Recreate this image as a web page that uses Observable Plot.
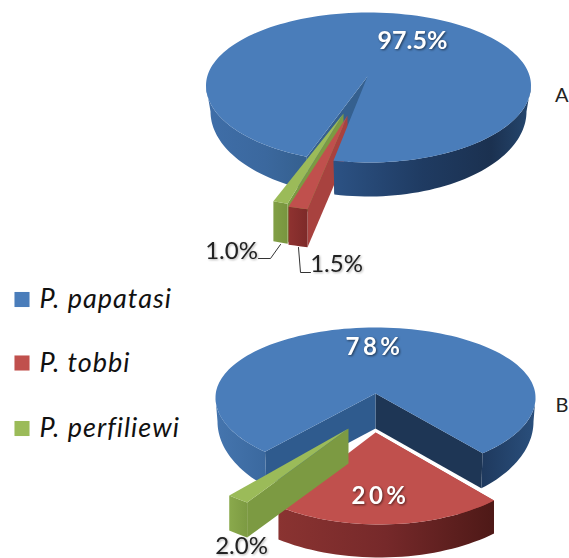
<!DOCTYPE html>
<html><head><meta charset="utf-8">
<script src="https://cdn.jsdelivr.net/npm/d3@7"></script>
<script src="https://cdn.jsdelivr.net/npm/@observablehq/plot@0.6"></script>
<style>html,body{margin:0;background:#fff}svg{display:block;filter:blur(.35px)}</style>
</head><body><div id="chart"></div>
<script>
// ---- data ----
const species = ["P. papatasi", "P. tobbi", "P. perfiliewi"];
const valuesA = [97.5, 1.5, 1.0];
const valuesB = [78, 20, 2.0];
const labelsA = ["97.5%", "1.5%", "1.0%"];
const labelsB = ["78%", "20%", "2.0%"];
const panelNames = ["A", "B"];
const topColors = ["#4a7dba", "#c0504d", "#9bbb59"];

// ---- 3D perspective drawing parameters ----
const WARP = 3.3;
const rad = d => d * Math.PI / 180;
const warp = p => p + WARP * Math.sin(rad(2 * (p - 90)));
const rim = (e, p) => {
  const t = rad(warp(p)), s = Math.sin(t);
  return {x: e.cx + e.rx * Math.cos(t), y: e.cy + (s < 0 ? e.ryB : e.ryF) * s};
};
const arc = (e, a0, a1) => {
  const n = Math.max(2, Math.ceil(Math.abs(a1 - a0) / 2)), out = [];
  for (let i = 0; i <= n; ++i) out.push(rim(e, a0 + (a1 - a0) * i / n));
  return out;
};
const pieA = {
  start: 110.2, values: valuesA,
  main: {cx: 368, cy: 85, rx: 162.5, ryB: 73, ryF: 77},
  base: {cx: 368, cy: 111, rx: 158, ryB: 85, ryF: 85},
  tip: {x: 367, y: 76}, wall: 36,
  slices: [null,
    {e: {cx: 348, cy: 116, rx: 190, ryB: 95, ryF: 95}, tip: {x: 347, y: 115}, depth: 38},
    {e: {cx: 356.5, cy: 113, rx: 220, ryB: 95, ryF: 95}, tip: {x: 343, y: 113}, depth: 40}],
  wallFill: ["#35608f", "#1e3555"]
};
const pieB = {
  start: 130.4, values: valuesB,
  main: {cx: 375, cy: 397, rx: 160, ryB: 70, ryF: 75},
  base: {cx: 375, cy: 421, rx: 158, ryB: 90, ryF: 90},
  tip: {x: 375, y: 393}, wall: 35,
  slices: [null,
    {e: {cx: 379, cy: 431, rx: 171, ryB: 93, ryF: 93}, tip: {x: 375, y: 432}, depth: 33},
    {e: {cx: 353, cy: 435, rx: 180, ryB: 83, ryF: 83}, tip: {x: 348, y: 428}, depth: 35}],
  wallFill: ["#2f5b8e", "#1e3655"]
};
const drop = (pts, d) => pts.map(p => ({x: p.x, y: p.y + d}));
const poly = (pts, fill) => Plot.line(pts, {x: "x", y: "y", fill, stroke: "none"});
const scaleFill = (pts, i) => Plot.line(pts.map(p => ({...p, species: species[i]})),
  {x: "x", y: "y", fill: "species", stroke: "none"});

function layers(pie, grad) {
  const [v0, v1] = pie.values;
  const end0 = pie.start + v0 * 3.6, end1 = end0 + v1 * 3.6, end2 = pie.start + 360;
  const {main, base, tip, wall} = pie;
  const topBlue = [tip, ...arc(main, pie.start, end0)];
  const leftSide = [...arc(main, pie.start, 180), ...arc(base, 180, pie.start)];
  const rightSide = [...arc(main, 360, end0), ...arc(base, end0, 360)];
  const wallL = [tip, rim(main, pie.start), rim(base, pie.start), {x: tip.x, y: tip.y + wall}];
  const wallR = [tip, rim(main, end0), rim(base, end0), {x: tip.x, y: tip.y + wall}];
  const slice = (i, a0, a1, wallFill, frontFill) => {
    const s = pie.slices[i], a = arc(s.e, a0, a1), r = a[0];
    return [
      poly([s.tip, r, {x: r.x, y: r.y + s.depth}, {x: s.tip.x, y: s.tip.y + s.depth}], wallFill),
      poly([...a, ...drop(a, s.depth).reverse()], frontFill),
      scaleFill([s.tip, ...a], i)
    ];
  };
  const red = slice(1, end0, end1, grad.redWall, grad.redFront);
  const green = slice(2, end1, end2, "#7c9a42", grad.greenFront);
  const walls = [poly(wallR, pie.wallFill[1]), poly(wallL, pie.wallFill[0])];
  const l = poly(leftSide, grad.left), r = poly(rightSide, grad.right), t = scaleFill(topBlue, 0);
  return grad.behind
    ? [...walls, l, ...green, ...red, r, t]
    : [...walls, l, r, t, ...red, ...green];
}

function gradient(id, x1, x2, stops) {
  return `<linearGradient id="${id}" gradientUnits="userSpaceOnUse" x1="${x1}" x2="${x2}" y1="0" y2="0">` +
    stops.map(([o, c]) => `<stop offset="${o}" stop-color="${c}"/>`).join("") + `</linearGradient>`;
}
const defs = () => {
  const s = d3.create("svg:defs");
  s.html(
    gradient("aLeft", 205, 305, [[0, "#3f6ea8"], [.6, "#3b689e"], [1, "#35608f"]]) +
    gradient("aRight", 333, 530, [[0, "#2c5284"], [.45, "#1f3b62"], [.8, "#1b3150"], [1, "#25476f"]]) +
    gradient("bLeft", 215, 265, [[0, "#4575ae"], [1, "#3b699f"]]) +
    gradient("bRight", 483, 534, [[0, "#1f3a5f"], [1, "#2a4f7c"]]) +
    gradient("aRed", 288, 307, [[0, "#8f3230"], [1, "#7d2a29"]]) +
    gradient("bRed", 277, 493, [[0, "#8a3331"], [.5, "#76292a"], [1, "#4e1917"]]) +
    gradient("aGreen", 272, 287, [[0, "#82a046"], [1, "#78953f"]]) +
    gradient("bGreen", 229, 247, [[0, "#8aa94c"], [1, "#7c9a42"]])
  );
  return s.node();
};

const shadow = (f, extra = {}) => function (index, scales, values, dims, ctx, next) {
  const g = next(index, scales, values, dims, ctx);
  if (f) g.style.filter = f;
  Object.entries(extra).forEach(([k, v]) => g.style[k] = v);
  return g;
};
const font = "Lato, Carlito, sans-serif";
const whiteShadow = "drop-shadow(1.2px 1.2px 1px rgba(0,0,0,.55))";
const darkShadow = "drop-shadow(1px 1.5px 1px rgba(0,0,0,.3))";

const inTop = [{t: labelsA[0], x: 412, y: 40}];
const inSpaced = [{t: labelsB[0], x: 374, y: 347}, {t: labelsB[1], x: 380, y: 496}];
const outer = [
  {t: labelsA[2], x: 231, y: 251},
  {t: labelsA[1], x: 336, y: 264},
  {t: labelsB[2], x: 241, y: 546}
];
const leader10 = [{x: 258, y: 258}, {x: 270, y: 258}, {x: 280, y: 244}];
const leader15 = [{x: 298, y: 247}, {x: 300, y: 272}, {x: 310, y: 272}];
const panels = [{t: panelNames[0], x: 568, y: 95}, {t: panelNames[1], x: 568, y: 405}];
const legendRows = species.map((s, i) => ({s, y: [299, 362.5, 428][i]}));

const plot = Plot.plot({
  width: 569, height: 558, margin: 0,
  x: {domain: [0, 569], range: [0, 569], axis: null},
  y: {domain: [0, 558], range: [0, 558], axis: null},
  color: {domain: species, range: topColors},
  style: {background: "#fff"},
  marks: [
    defs,
    ...layers(pieA, {left: "url(#aLeft)", right: "url(#aRight)", redWall: "#a8423f", redFront: "url(#aRed)", greenFront: "url(#aGreen)", behind: true}),
    ...layers(pieB, {left: "url(#bLeft)", right: "url(#bRight)", redWall: "#a8423f", redFront: "url(#bRed)", greenFront: "url(#bGreen)", behind: false}),
    Plot.line(leader10, {x: "x", y: "y", stroke: "#333", strokeWidth: 1}),
    Plot.line(leader15, {x: "x", y: "y", stroke: "#333", strokeWidth: 1}),
    Plot.text(inTop, {x: "x", y: "y", text: "t", fill: "#fff", fontSize: 25, fontWeight: 700, fontFamily: font, render: shadow(whiteShadow)}),
    Plot.text(inSpaced, {x: "x", y: "y", text: "t", fill: "#fff", fontSize: 24, fontWeight: 700, fontFamily: font, render: shadow(whiteShadow, {letterSpacing: "3.5px"})}),
    Plot.text(outer, {x: "x", y: "y", text: "t", fill: "#222", fontSize: 24, fontFamily: font, render: shadow(darkShadow)}),
    Plot.text(panels, {x: "x", y: "y", text: "t", fill: "#222", fontSize: 20, fontFamily: font, textAnchor: "end"}),
    Plot.dot(legendRows, {x: () => 21.5, y: "y", fill: "s", symbol: "square", r: 8.5, stroke: "none"}),
    Plot.text(legendRows, {x: () => 39, y: "y", text: "s", fill: "#111", fontSize: 27, fontStyle: "italic", fontFamily: font, textAnchor: "start", render: shadow(null, {letterSpacing: "1px"})})
  ]
});
document.getElementById("chart").append(plot);
</script></body></html>
